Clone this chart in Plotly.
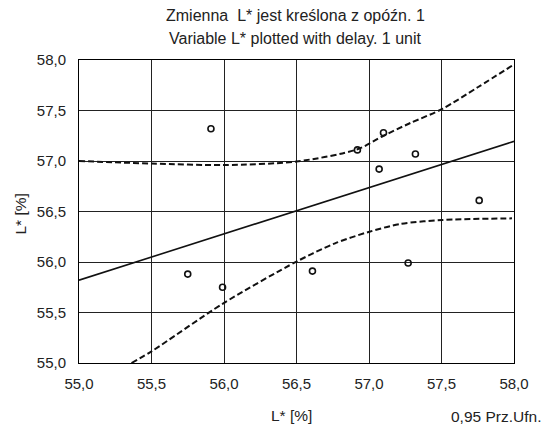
import plotly.graph_objects as go

# observed points
pts_x = [55.91, 55.75, 55.99, 56.61, 57.27, 56.92, 57.10, 57.07, 57.32, 57.76]
pts_y = [57.32, 55.88, 55.75, 55.91, 55.99, 57.11, 57.28, 56.92, 57.07, 56.61]

# fitted regression line (end points)
fit_x = [55.0, 58.0]
fit_y = [55.82, 57.195]

# upper 0.95 band
up_x = [55.0, 55.5, 56.0, 56.5, 56.92, 57.1, 57.285, 57.505, 57.75, 58.0]
up_y = [57.0, 56.975, 56.96, 56.995, 57.116, 57.25, 57.376, 57.515, 57.73, 57.956]

# lower 0.95 band
lo_x = [55.362, 55.5, 55.99, 56.5, 56.766, 57.003, 57.215, 57.505, 57.986]
lo_y = [55.0, 55.115, 55.586, 56.004, 56.185, 56.30, 56.376, 56.416, 56.432]

tick_vals = [55.0, 55.5, 56.0, 56.5, 57.0, 57.5, 58.0]
tick_text = ["55,0", "55,5", "56,0", "56,5", "57,0", "57,5", "58,0"]

title_lines = ["Zmienna  L* jest kreślona z opóźn. 1", "Variable L* plotted with delay. 1 unit"]
x_title = "L* [%]"
y_title = "L* [%]"
band_label = "0,95 Prz.Ufn."

FONT = "Liberation Sans, Arial, sans-serif"
TXT = "#222"

W, H = 544, 429
L, R, T, B = 79, 30, 60, 66
PW, PH = W - L - R, H - T - B


def fx(px):
    return (px - L) / PW


def fy(py):
    return (H - B - py) / PH


fig = go.Figure()
band_line = dict(color="#111", width=2, dash="6px,3px", shape="spline", smoothing=0.8)
fig.add_trace(go.Scatter(x=up_x, y=up_y, mode="lines", line=band_line, hoverinfo="skip"))
fig.add_trace(go.Scatter(x=lo_x, y=lo_y, mode="lines", line=band_line, hoverinfo="skip"))
fig.add_trace(go.Scatter(x=fit_x, y=fit_y, mode="lines", line=dict(color="#111", width=1.6)))
fig.add_trace(go.Scatter(x=pts_x, y=pts_y, mode="markers",
                         marker=dict(symbol="circle-open", size=6, color="#111", line=dict(width=1.6))))


def axis(standoff):
    return dict(
        range=[55.0, 58.0],
        showgrid=True, gridcolor="#222", gridwidth=1,
        showline=True, linecolor="#000", linewidth=1, mirror=True,
        ticks="", zeroline=False,
        tickfont=dict(family=FONT, size=15, color=TXT),
        tickvals=tick_vals, ticktext=tick_text,
        ticklabelstandoff=standoff,
    )


def ann(text, px, py, xanchor="center", angle=0, size=15.5):
    return dict(text=text, xref="paper", yref="paper", x=fx(px), y=fy(py),
                xanchor=xanchor, yanchor="middle", textangle=angle, showarrow=False,
                font=dict(size=size, family=FONT, color=TXT))


fig.update_layout(
    width=W, height=H,
    margin=dict(l=L, r=R, t=T, b=B),
    paper_bgcolor="white", plot_bgcolor="white",
    showlegend=False,
    font=dict(family=FONT, color=TXT),
    xaxis=axis(7),
    yaxis=axis(9),
    annotations=[
        ann(title_lines[0], 295, 15, size=16),
        ann(title_lines[1], 295, 38, size=16),
        ann(x_title, 291, 415),
        ann(band_label, 543, 416, xanchor="right"),
        ann(y_title, 20.5, 214, angle=-90),
    ],
)

fig.write_html("out.html")
